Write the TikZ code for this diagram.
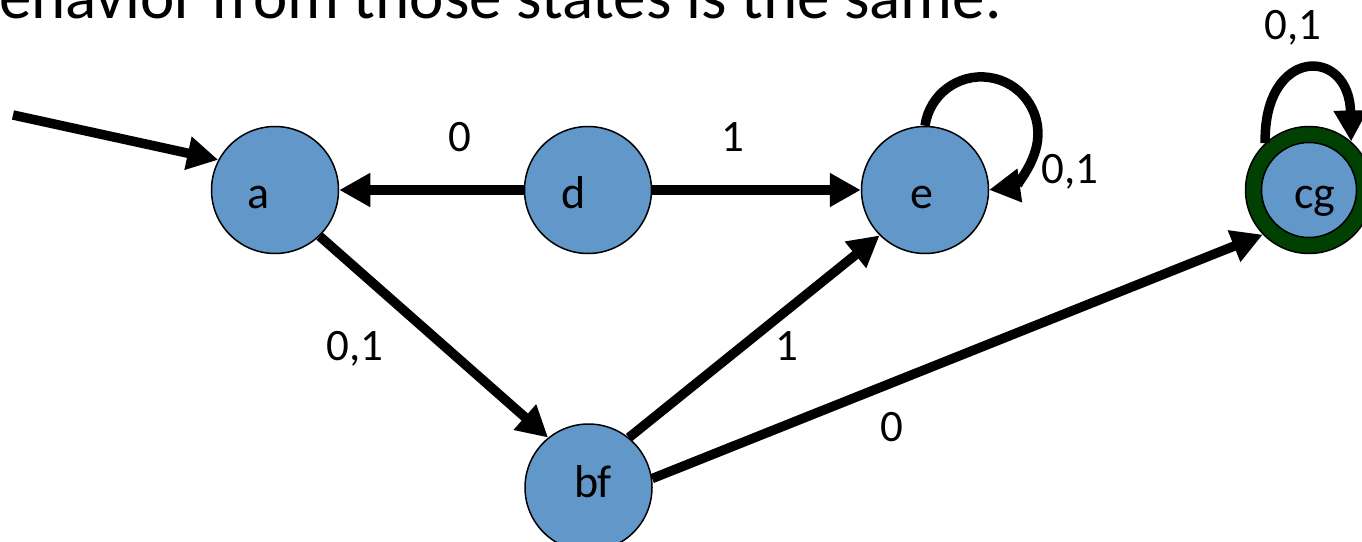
\documentclass[tikz,border=0pt]{standalone}
\usepackage{fontspec}
\setmainfont{Carlito}
\usetikzlibrary{arrows.meta}
\definecolor{stateblue}{RGB}{98,151,201}
\definecolor{acceptgreen}{RGB}{0,64,0}
\tikzset{
  state/.style={circle, draw=black, line width=1.5pt, fill=stateblue,
    minimum size=127pt, inner sep=0pt},
  statetext/.style={anchor=base, inner sep=0pt, font=\fontsize{46}{46}\selectfont},
  edgelabel/.style={anchor=base, inner sep=0pt, font=\fontsize{45}{45}\selectfont},
  trans/.style={line width=9.5pt, -{Triangle[length=31pt,width=32pt]}},
}
\begin{document}
\begin{tikzpicture}[x=1pt,y=1pt]
  \useasboundingbox (0,0) rectangle (1362,-541);
  \clip (0,0) rectangle (1362,-541);

  % heading line, running off the top edge
  \node[anchor=base west, inner sep=0pt, font=\fontsize{65}{65}\selectfont]
    (head) at (-1,-18) {ehavior from those states is the same.};

  % states
  \node[state] (a)  at (275,-190) {};
  \node[state] (d)  at (588,-190) {};
  \node[state] (e)  at (925,-190) {};
  \node[state] (bf) at (588.5,-487.5) {};
  \node[state, fill=acceptgreen] (cg) at (1309,-190) {};
  \node[state, minimum size=95pt] (cgin) at (cg.center) {};

  \node[statetext] (a-t)  at (259,-208) {a};
  \node[statetext] (d-t)  at (574,-208) {d};
  \node[statetext] (e-t)  at (922,-208) {e};
  \node[statetext] (cg-t) at (1315,-208) {cg};
  \node[statetext] (bf-t) at (593,-497) {bf};

  % start arrow
  \coordinate (start) at (13,-115);
  \draw[trans] (start) -- (a.152);

  % transitions
  \draw[trans] (d.west) -- (a.east);
  \draw[trans] (d.east) -- (e.west);
  \draw[trans] (a.-46) -- (bf.129);
  \draw[trans] (bf.51) -- (e.225);
  \draw[trans] (bf.8) -- (cg.224);

  % self loops
  \draw[trans] (e.north) arc[start angle=172, end angle=-82, radius=56.75];
  \draw[trans] (cg.133) .. controls +(-2,96) and +(-2,96) .. (cg.49);

  % transition labels
  \node[edgelabel] (l-da)  at (460,-151) {0};
  \node[edgelabel] (l-de)  at (733,-151) {1};
  \node[edgelabel] (l-abf) at (355,-360) {0,1};
  \node[edgelabel] (l-bfe) at (787,-360) {1};
  \node[edgelabel] (l-bfcg) at (892,-441) {0};
  \node[edgelabel] (l-ee)  at (1070,-183) {0,1};
  \node[edgelabel] (l-cgcg) at (1293,-39) {0,1};
\end{tikzpicture}
\end{document}
